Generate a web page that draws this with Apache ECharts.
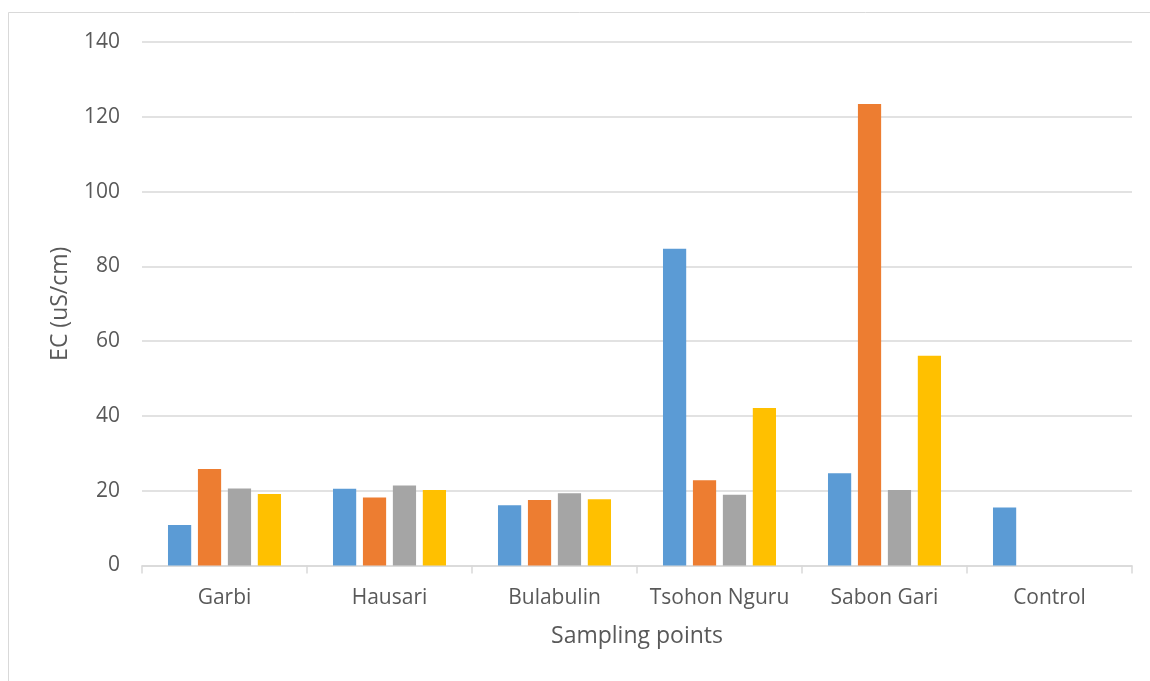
<!DOCTYPE html>
<html>
<head>
<meta charset="utf-8">
<script src="https://cdn.jsdelivr.net/npm/echarts@6/dist/echarts.min.js"></script>
<style>
  html, body { margin: 0; padding: 0; background: #fff; }
  #chart { width: 1150px; height: 681px; }
</style>
</head>
<body>
<div id="chart"></div>
<script>
// Sampling locations along the x axis
const categories = ['Garbi', 'Hausari', 'Bulabulin', 'Tsohon Nguru', 'Sabon Gari', 'Control'];

// Electrical conductivity (uS/cm), one array per sample set
const set1 = [10.8, 20.5, 16.1, 84.7, 24.7, 15.5];
const set2 = [25.8, 18.2, 17.5, 22.8, 123.4, null];
const set3 = [20.6, 21.4, 19.3, 18.9, 20.2, null];
const set4 = [19.1, 20.2, 17.7, 42.1, 56.1, null];

const seriesColors = ['#5B9BD5', '#ED7D31', '#A5A5A5', '#FFC000'];
const seriesData = [set1, set2, set3, set4];

const textColor = '#595959';
const lineColor = '#D9D9D9';
const font = '"Open Sans", "Noto Sans", sans-serif';

const chart = echarts.init(document.getElementById('chart'), null, { renderer: 'canvas' });

chart.setOption({
  backgroundColor: '#fff',
  animation: false,
  graphic: [{
    type: 'rect',
    shape: { x: 8.5, y: 12.5, width: 1300, height: 800 },
    style: { fill: 'none', stroke: lineColor, lineWidth: 1 },
    silent: true
  }],
  grid: { left: 142, right: 18, top: 42, bottom: 115.5, containLabel: false },
  xAxis: {
    type: 'category',
    data: categories,
    name: 'Sampling points',
    nameLocation: 'middle',
    nameGap: 59,
    nameTextStyle: { color: textColor, fontSize: 23, fontFamily: font },
    axisLine: { lineStyle: { color: lineColor, width: 1.5 } },
    axisTick: { show: true, interval: 0, length: 8, alignWithLabel: false, lineStyle: { color: lineColor, width: 1.5 } },
    axisLabel: { color: textColor, fontSize: 21, fontFamily: font, margin: 22, interval: 0, hideOverlap: false }
  },
  yAxis: {
    type: 'value',
    min: 0,
    max: 140,
    interval: 20,
    name: 'EC (uS/cm)',
    nameLocation: 'middle',
    nameGap: 70,
    nameRotate: 90,
    nameTextStyle: { color: textColor, fontSize: 23, fontFamily: font },
    axisLine: { show: false },
    axisTick: { show: false },
    axisLabel: { color: textColor, fontSize: 21, fontFamily: font, margin: 22 },
    splitLine: { lineStyle: { color: lineColor, width: 1.5 } }
  },
  series: seriesData.map((d, i) => ({
    type: 'bar',
    name: 'Set ' + (i + 1),
    data: d,
    barGap: '29%',
    barCategoryGap: '31.5%',
    itemStyle: { color: seriesColors[i] }
  }))
});
</script>
</body>
</html>
